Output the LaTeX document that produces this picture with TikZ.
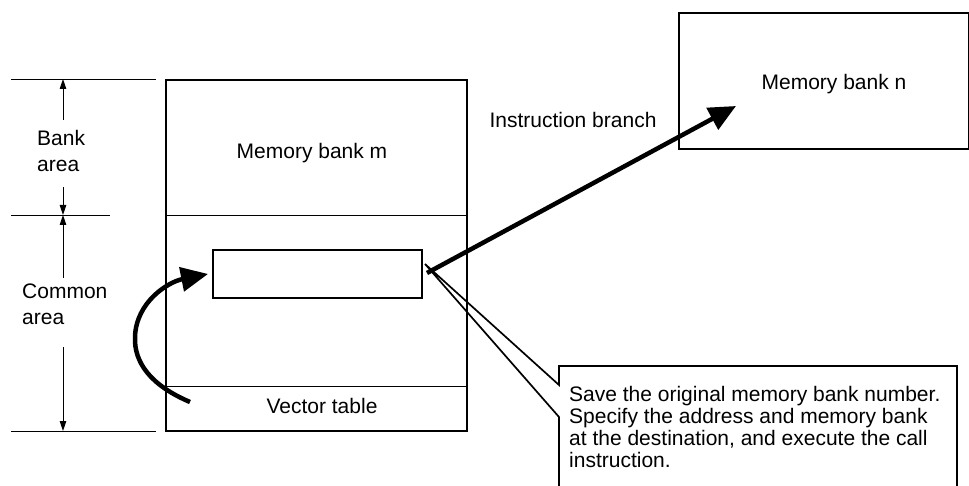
\documentclass[tikz,border=0pt]{standalone}
\usepackage{fontspec}
\setmainfont{Liberation Sans}
\usetikzlibrary{arrows.meta}
\begin{document}
\begin{tikzpicture}[x=1pt,y=-1pt,
  txt/.style={inner sep=0pt, font=\fontsize{21}{26}\selectfont},
  box/.style={draw, line width=2pt, inner sep=0pt},
  divider/.style={line width=1pt},
  refline/.style={line width=0.9pt},
  dimarr/.style={line width=0.9pt, -{Triangle[length=10pt,width=6.5pt]}},
  bigarr/.style={line width=4.5pt, -{Triangle[length=27pt,width=24pt]}},
  callout/.style={line width=1.7pt, line join=miter},
]
\useasboundingbox (0,0) rectangle (969,486);

% main memory bank m
\node[box, minimum width=301pt, minimum height=351pt, anchor=north west] (bankm) at (165,79) {};
\draw[divider] (bankm.west |- 0,216) -- (bankm.east |- 0,216);
\draw[divider] (bankm.west |- 0,386) -- (bankm.east |- 0,386);
\node[txt, anchor=base] (lblm) at (312,159) {Memory bank m};
\node[txt, anchor=base] (vt) at (322,413) {Vector table};

% call instruction box
\node[box, minimum width=209pt, minimum height=48pt, anchor=north west] (call) at (212,249) {};

% memory bank n
\node[box, minimum width=290pt, minimum height=136pt, anchor=north west] (bankn) at (678,12) {};
\node[txt, anchor=base] (lbln) at (834,90) {Memory bank n};
\node[txt, anchor=base] (ib) at (573,128) {Instruction branch};

% instruction branch arrow
\coordinate (ntip) at (736,106);
\draw[bigarr] ([shift={(4,-1)}]call.east) -- (ntip);

% curved arrow from vector table
\coordinate (vtail) at (190,402);
\coordinate (ctip) at ([shift={(-4,0)}]call.west);
\draw[bigarr] (vtail) .. controls (150,385) and (134,362) .. (135,337)
  .. controls (136,302) and (168,282) .. (ctip);

% callout
\coordinate (ptip) at ([shift={(2,-10)}]call.east);
\draw[callout] (559,492) -- (559,417) -- (ptip) -- (559,385) -- (559,366)
  -- (957,366) -- (957,492);
\node[txt, anchor=base west, align=left, font=\fontsize{21}{22}\selectfont] (note) at (569,467)
  {Save the original memory bank number.\\Specify the address and memory bank\\at the destination, and execute the call\\instruction.};

% left dimensioning
\coordinate (dtop) at (63,79);
\coordinate (dmid) at (63,215);
\coordinate (dbot) at (63,431);
\draw[refline] (11,79) -- (156,79);
\draw[refline] (11,215) -- (110,215);
\draw[refline] (11,431) -- (156,431);
\node[txt, anchor=base west, align=left] (bank) at (37,172) {Bank\\area};
\node[txt, anchor=base west, align=left] (common) at (22,324) {Common\\area};
\draw[dimarr] (63,120) -- (dtop);
\draw[dimarr] (63,187) -- (dmid);
\draw[dimarr] (63,278) -- (dmid);
\draw[dimarr] (63,347) -- (dbot);
\end{tikzpicture}
\end{document}
